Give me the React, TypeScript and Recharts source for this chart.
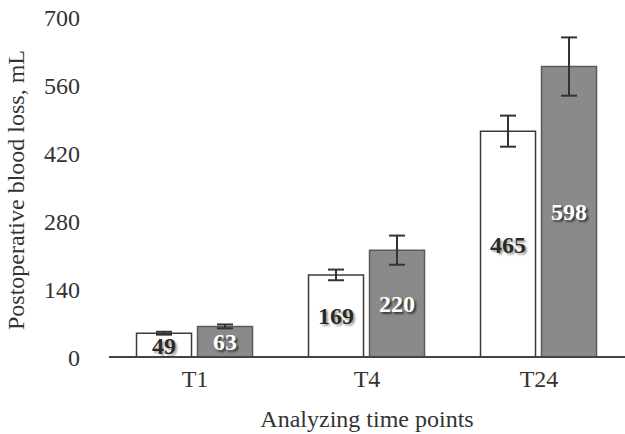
import React from "react";
import { BarChart, Bar, XAxis, YAxis, ErrorBar, LabelList } from "recharts";

const categories = ["T1", "T4", "T24"];
const groupA = [49, 169, 465];
const groupAErr = [3, 11, 32];
const groupB = [63, 220, 598];
const groupBErr = [4, 30, 60];
const yTicks = [0, 140, 280, 420, 560, 700];

const data = categories.map((c, i) => ({
  name: c,
  a: groupA[i],
  aErr: groupAErr[i],
  b: groupB[i],
  bErr: groupBErr[i],
}));

const FONT = "'Liberation Serif', 'Times New Roman', serif";

const YLabel = () => (
  <text
    x={24}
    y={190}
    transform="rotate(-90, 24, 190)"
    textAnchor="middle"
    fontFamily={FONT}
    fontSize={24}
    fill="#333"
  >
    Postoperative blood loss, mL
  </text>
);

export default function App() {
  return (
    <div style={{ position: "fixed", left: 0, top: 0, background: "#fff" }}>
      <BarChart
        width={625}
        height={434}
        data={data}
        margin={{ top: 17, right: 0, bottom: 0, left: 0 }}
        barCategoryGap="16%"
        barGap={6}
      >
        <XAxis
          dataKey="name"
          height={77}
          axisLine={{ stroke: "#444", strokeWidth: 2 }}
          tickLine={false}
          tickSize={0}
          tickMargin={13}
          tick={{ fontFamily: FONT, fontSize: 24, fill: "#333" }}
          label={{
            value: "Analyzing time points",
            position: "insideBottom",
            offset: 7,
            fontFamily: FONT,
            fontSize: 24,
            fill: "#333",
          }}
        />
        <YAxis
          width={109}
          domain={[0, 700]}
          ticks={yTicks}
          axisLine={false}
          tickLine={false}
          tickSize={29}
          tickMargin={0}
          tick={{ fontFamily: FONT, fontSize: 24, fill: "#333" }}
          label={<YLabel />}
        />
        <Bar dataKey="a" fill="#ffffff" stroke="#3a3a3a" strokeWidth={1.5} isAnimationActive={false}>
          <ErrorBar dataKey="aErr" width={8} stroke="#333" strokeWidth={2} />
          <LabelList
            dataKey="a"
            position="center"
            fill="#2a2a2a"
            fontFamily={FONT}
            fontSize={24}
            fontWeight="bold"
            style={{ textShadow: "2px 2px 2px rgba(0,0,0,0.35)" }}
          />
        </Bar>
        <Bar dataKey="b" fill="#8a8a8a" stroke="#5a5a5a" strokeWidth={1.5} isAnimationActive={false}>
          <ErrorBar dataKey="bErr" width={8} stroke="#333" strokeWidth={2} />
          <LabelList
            dataKey="b"
            position="center"
            fill="#ffffff"
            fontFamily={FONT}
            fontSize={24}
            fontWeight="bold"
            style={{ textShadow: "2px 2px 2px rgba(0,0,0,0.6)" }}
          />
        </Bar>
      </BarChart>
    </div>
  );
}
